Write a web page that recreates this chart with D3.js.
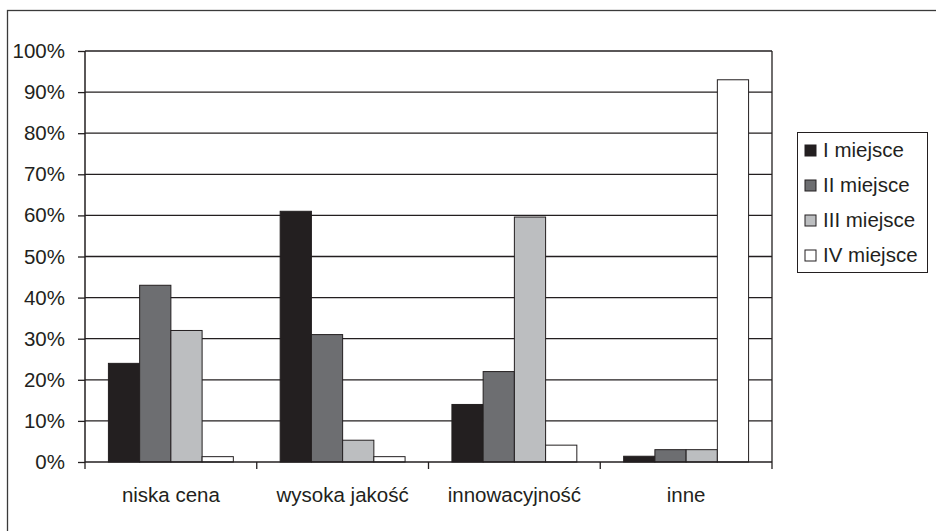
<!DOCTYPE html>
<html>
<head>
<meta charset="utf-8">
<script src="https://cdn.jsdelivr.net/npm/d3@7"></script>
<style>
  body { margin: 0; background: #fff; }
  text { font-family: "Liberation Sans", Arial, sans-serif; fill: #231f20; }
</style>
</head>
<body>
<div id="chart"></div>
<script>
// categories and series
var categories = ["niska cena", "wysoka jakość", "innowacyjność", "inne"];
var seriesNames = ["I miejsce", "II miejsce", "III miejsce", "IV miejsce"];
var seriesColors = ["#231f20", "#6d6e71", "#bcbec0", "#ffffff"];

// values in % per series (one value per category)
var miejsce1 = [24, 61, 14, 1.4];
var miejsce2 = [43, 31, 22, 3];
var miejsce3 = [32, 5.3, 59.6, 3];
var miejsce4 = [1.3, 1.3, 4.1, 93];

var yTicks = [0, 10, 20, 30, 40, 50, 60, 70, 80, 90, 100];

var seriesValues = [miejsce1, miejsce2, miejsce3, miejsce4];

var svgWidth = 936;
var svgHeight = 531;

var margin = { top: 51, left: 85 };
var width = 687;
var height = 411;
var fontSize = "20.5px";

var svg = d3.select("#chart")
  .append("svg")
  .attr("width", svgWidth)
  .attr("height", svgHeight);

// outer chart border (runs past the right/bottom edges)
svg.append("rect")
  .attr("x", 7.5)
  .attr("y", 10.5)
  .attr("width", 1000)
  .attr("height", 1000)
  .attr("fill", "none")
  .attr("stroke", "#3a3a3a")
  .attr("stroke-width", 1.3);

var chartGroup = svg.append("g")
  .attr("transform", `translate(${margin.left}, ${margin.top})`);

// scales
var x0 = d3.scaleBand()
  .domain(categories)
  .range([0, width]);

var pad = x0.bandwidth() * 1.5 / 5.5 / 2;
var x1 = d3.scaleBand()
  .domain(seriesNames)
  .range([pad, x0.bandwidth() - pad]);

var y = d3.scaleLinear()
  .domain([0, 100])
  .range([height, 0]);

// gridlines
chartGroup.selectAll(".grid")
  .data(yTicks.filter(d => d > 0))
  .enter()
  .append("line")
  .attr("x1", 0)
  .attr("x2", width)
  .attr("y1", d => y(d))
  .attr("y2", d => y(d))
  .attr("stroke", "#231f20")
  .attr("stroke-width", 1.3);

// right edge of plot area
chartGroup.append("line")
  .attr("x1", width).attr("x2", width)
  .attr("y1", 0).attr("y2", height)
  .attr("stroke", "#231f20")
  .attr("stroke-width", 1.3);

// bars
var data = [];
categories.forEach(function(c, i) {
  seriesNames.forEach(function(s, j) {
    data.push({ cat: c, series: s, value: seriesValues[j][i], color: seriesColors[j] });
  });
});

chartGroup.selectAll(".bar")
  .data(data)
  .enter()
  .append("rect")
  .attr("x", d => x0(d.cat) + x1(d.series))
  .attr("y", d => y(d.value))
  .attr("width", x1.bandwidth())
  .attr("height", d => height - y(d.value))
  .attr("fill", d => d.color)
  .attr("stroke", "#231f20")
  .attr("stroke-width", 1);

// axes
var leftAxis = d3.axisLeft(y)
  .tickValues(yTicks)
  .tickSize(7)
  .tickPadding(13)
  .tickFormat(d => d + "%");

var yAxisG = chartGroup.append("g").call(leftAxis);
yAxisG.select(".domain").attr("stroke", "#231f20").attr("stroke-width", 1.5)
  .attr("d", `M0,${height}V0`);
yAxisG.selectAll(".tick line").attr("stroke", "#231f20").attr("stroke-width", 1.3);
yAxisG.selectAll("text")
  .style("font-size", fontSize)
  .attr("fill", "#231f20");

var bottomAxis = d3.axisBottom(x0).tickSize(0).tickPadding(25);
var xAxisG = chartGroup.append("g")
  .attr("transform", `translate(0, ${height})`)
  .call(bottomAxis);
xAxisG.select(".domain").attr("stroke", "#231f20").attr("stroke-width", 1.5)
  .attr("d", `M0,0H${width}`);
xAxisG.selectAll("text")
  .style("font-size", fontSize)
  .attr("fill", "#231f20");

// category separator ticks
var sepTicks = categories.map(c => x0(c)).concat([width]);
xAxisG.selectAll(".sep")
  .data(sepTicks)
  .enter()
  .append("line")
  .attr("x1", d => d).attr("x2", d => d)
  .attr("y1", 0).attr("y2", 7)
  .attr("stroke", "#231f20")
  .attr("stroke-width", 1.3);

// legend
var legend = svg.append("g")
  .attr("transform", "translate(797, 132)");

legend.append("rect")
  .attr("x", 0.5).attr("y", 0.5)
  .attr("width", 130).attr("height", 140)
  .attr("fill", "#fff")
  .attr("stroke", "#231f20")
  .attr("stroke-width", 1);

var items = legend.selectAll(".item")
  .data(seriesNames)
  .enter()
  .append("g")
  .attr("transform", (d, i) => `translate(8, ${18 + i * 35})`);

items.append("rect")
  .attr("x", 0).attr("y", -5)
  .attr("width", 11).attr("height", 11)
  .attr("fill", (d, i) => seriesColors[i])
  .attr("stroke", "#231f20")
  .attr("stroke-width", 1);

items.append("text")
  .attr("x", 18)
  .attr("y", 7)
  .style("font-size", fontSize)
  .text(d => d);
</script>
</body>
</html>
